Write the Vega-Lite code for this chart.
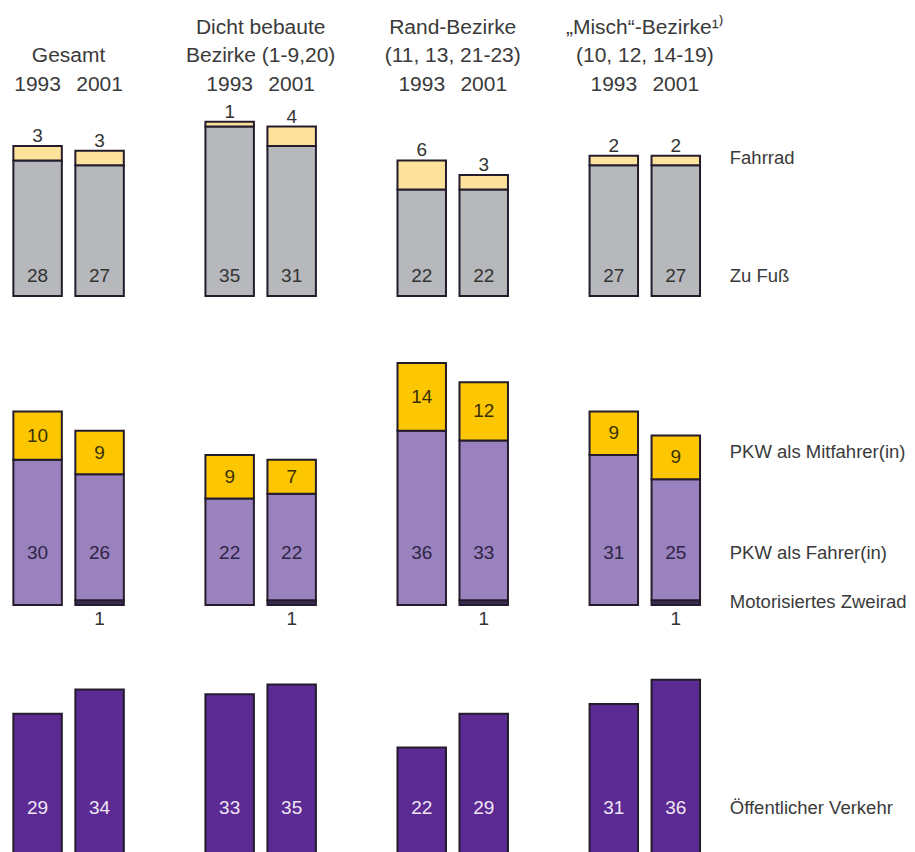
{
  "$schema": "https://vega.github.io/schema/vega-lite/v6.json",
  "padding": 0,
  "autosize": {"type": "pad"},
  "background": "white",
  "spacing": 0,
  "bounds": "flush",
  "config": {
    "font": "Liberation Sans",
    "view": {"stroke": null},
    "axis": {"disable": true},
    "legend": {"disable": true},
    "text": {"font": "Liberation Sans", "color": "#3a3a3a"}
  },
  "datasets": {
    "main": [
      {"group": "Gesamt", "year": "1993", "mode": "Zu Fuß", "value": 28},
      {"group": "Gesamt", "year": "1993", "mode": "Fahrrad", "value": 3},
      {"group": "Gesamt", "year": "1993", "mode": "PKW als Fahrer(in)", "value": 30},
      {"group": "Gesamt", "year": "1993", "mode": "PKW als Mitfahrer(in)", "value": 10},
      {"group": "Gesamt", "year": "1993", "mode": "Öffentlicher Verkehr", "value": 29},
      {"group": "Gesamt", "year": "2001", "mode": "Zu Fuß", "value": 27},
      {"group": "Gesamt", "year": "2001", "mode": "Fahrrad", "value": 3},
      {"group": "Gesamt", "year": "2001", "mode": "Motorisiertes Zweirad", "value": 1},
      {"group": "Gesamt", "year": "2001", "mode": "PKW als Fahrer(in)", "value": 26},
      {"group": "Gesamt", "year": "2001", "mode": "PKW als Mitfahrer(in)", "value": 9},
      {"group": "Gesamt", "year": "2001", "mode": "Öffentlicher Verkehr", "value": 34},
      {"group": "Dicht", "year": "1993", "mode": "Zu Fuß", "value": 35},
      {"group": "Dicht", "year": "1993", "mode": "Fahrrad", "value": 1},
      {"group": "Dicht", "year": "1993", "mode": "PKW als Fahrer(in)", "value": 22},
      {"group": "Dicht", "year": "1993", "mode": "PKW als Mitfahrer(in)", "value": 9},
      {"group": "Dicht", "year": "1993", "mode": "Öffentlicher Verkehr", "value": 33},
      {"group": "Dicht", "year": "2001", "mode": "Zu Fuß", "value": 31},
      {"group": "Dicht", "year": "2001", "mode": "Fahrrad", "value": 4},
      {"group": "Dicht", "year": "2001", "mode": "Motorisiertes Zweirad", "value": 1},
      {"group": "Dicht", "year": "2001", "mode": "PKW als Fahrer(in)", "value": 22},
      {"group": "Dicht", "year": "2001", "mode": "PKW als Mitfahrer(in)", "value": 7},
      {"group": "Dicht", "year": "2001", "mode": "Öffentlicher Verkehr", "value": 35},
      {"group": "Rand", "year": "1993", "mode": "Zu Fuß", "value": 22},
      {"group": "Rand", "year": "1993", "mode": "Fahrrad", "value": 6},
      {"group": "Rand", "year": "1993", "mode": "PKW als Fahrer(in)", "value": 36},
      {"group": "Rand", "year": "1993", "mode": "PKW als Mitfahrer(in)", "value": 14},
      {"group": "Rand", "year": "1993", "mode": "Öffentlicher Verkehr", "value": 22},
      {"group": "Rand", "year": "2001", "mode": "Zu Fuß", "value": 22},
      {"group": "Rand", "year": "2001", "mode": "Fahrrad", "value": 3},
      {"group": "Rand", "year": "2001", "mode": "Motorisiertes Zweirad", "value": 1},
      {"group": "Rand", "year": "2001", "mode": "PKW als Fahrer(in)", "value": 33},
      {"group": "Rand", "year": "2001", "mode": "PKW als Mitfahrer(in)", "value": 12},
      {"group": "Rand", "year": "2001", "mode": "Öffentlicher Verkehr", "value": 29},
      {"group": "Misch", "year": "1993", "mode": "Zu Fuß", "value": 27},
      {"group": "Misch", "year": "1993", "mode": "Fahrrad", "value": 2},
      {"group": "Misch", "year": "1993", "mode": "PKW als Fahrer(in)", "value": 31},
      {"group": "Misch", "year": "1993", "mode": "PKW als Mitfahrer(in)", "value": 9},
      {"group": "Misch", "year": "1993", "mode": "Öffentlicher Verkehr", "value": 31},
      {"group": "Misch", "year": "2001", "mode": "Zu Fuß", "value": 27},
      {"group": "Misch", "year": "2001", "mode": "Fahrrad", "value": 2},
      {"group": "Misch", "year": "2001", "mode": "Motorisiertes Zweirad", "value": 1},
      {"group": "Misch", "year": "2001", "mode": "PKW als Fahrer(in)", "value": 25},
      {"group": "Misch", "year": "2001", "mode": "PKW als Mitfahrer(in)", "value": 9},
      {"group": "Misch", "year": "2001", "mode": "Öffentlicher Verkehr", "value": 36}
    ],
    "headers": [
      {"group": "Gesamt", "line1": "", "line2": "Gesamt"},
      {"group": "Dicht", "line1": "Dicht bebaute", "line2": "Bezirke (1-9,20)"},
      {"group": "Rand", "line1": "Rand-Bezirke", "line2": "(11, 13, 21-23)"},
      {"group": "Misch", "line1": "„Misch“-Bezirke¹⁾", "line2": "(10, 12, 14-19)"}
    ]
  },
  "vconcat": [
    {
      "width": 713.4,
      "height": 296,
      "layer": [
        {
          "data": {"name": "main"},
          "transform": [{"filter": {"field": "mode", "oneOf": ["Zu Fuß", "Fahrrad"]}}],
          "mark": {"type": "bar", "stroke": "#241c2c", "strokeWidth": 2},
          "encoding": {
            "x": {"field": "group", "type": "nominal", "scale": {"domain": ["Gesamt", "Dicht", "Rand", "Misch"], "paddingInner": 0.2857, "paddingOuter": 0}, "axis": null},
            "xOffset": {"field": "year", "type": "nominal", "scale": {"domain": ["1993", "2001"], "paddingInner": 0.218, "paddingOuter": 0.2155}},
            "y": {"field": "value", "type": "quantitative", "stack": "zero", "scale": {"domain": [0, 61.157], "nice": false, "zero": true}, "axis": null},
            "color": {"field": "mode", "type": "nominal", "scale": {"domain": ["Zu Fuß", "Fahrrad", "Motorisiertes Zweirad", "PKW als Fahrer(in)", "PKW als Mitfahrer(in)", "Öffentlicher Verkehr"], "range": ["#b6b8bc", "#fde29c", "#3a2c55", "#9a82bf", "#fcc700", "#5b2a93"]}, "legend": null},
            "order": {"field": "mode", "sort": "descending"}
          }
        },
        {
          "data": {"name": "main"},
          "transform": [{"filter": {"field": "mode", "equal": "Zu Fuß"}}],
          "mark": {"type": "text", "fontSize": 19, "baseline": "middle", "color": "#333333"},
          "encoding": {
            "x": {"field": "group", "type": "nominal"},
            "xOffset": {"field": "year", "type": "nominal"},
            "y": {"datum": 4.13, "type": "quantitative"},
            "text": {"field": "value", "type": "quantitative"}
          }
        },
        {
          "data": {"name": "main"},
          "transform": [
            {"filter": {"field": "mode", "oneOf": ["Zu Fuß", "Fahrrad"]}},
            {"joinaggregate": [{"op": "sum", "field": "value", "as": "total"}], "groupby": ["group", "year"]},
            {"filter": {"field": "mode", "equal": "Fahrrad"}}
          ],
          "mark": {"type": "text", "fontSize": 19, "baseline": "middle", "dy": -10, "color": "#333333"},
          "encoding": {
            "x": {"field": "group", "type": "nominal"},
            "xOffset": {"field": "year", "type": "nominal"},
            "y": {"field": "total", "type": "quantitative"},
            "text": {"field": "value", "type": "quantitative"}
          }
        },
        {
          "data": {"name": "main"},
          "transform": [{"filter": {"field": "mode", "equal": "Zu Fuß"}}],
          "mark": {"type": "text", "fontSize": 21, "baseline": "middle"},
          "encoding": {
            "x": {"field": "group", "type": "nominal"},
            "xOffset": {"field": "year", "type": "nominal"},
            "y": {"datum": 43.6, "type": "quantitative"},
            "text": {"field": "year", "type": "nominal"}
          }
        },
        {
          "data": {"name": "headers"},
          "mark": {"type": "text", "fontSize": 21, "baseline": "middle"},
          "encoding": {
            "x": {"field": "group", "type": "nominal"},
            "y": {"datum": 55.37, "type": "quantitative"},
            "text": {"field": "line1", "type": "nominal"}
          }
        },
        {
          "data": {"name": "headers"},
          "mark": {"type": "text", "fontSize": 21, "baseline": "middle"},
          "encoding": {
            "x": {"field": "group", "type": "nominal"},
            "y": {"datum": 49.59, "type": "quantitative"},
            "text": {"field": "line2", "type": "nominal"}
          }
        },
        {
          "data": {"name": "main"},
          "transform": [{"filter": "datum.group === 'Misch' && datum.year === '2001' && datum.mode === 'Fahrrad'"}],
          "mark": {"type": "text", "fontSize": 18.5, "baseline": "middle", "align": "left", "dx": 54},
          "encoding": {
            "x": {"field": "group", "type": "nominal"},
            "xOffset": {"field": "year", "type": "nominal"},
            "y": {"datum": 28.5, "type": "quantitative"},
            "text": {"field": "mode", "type": "nominal"}
          }
        },
        {
          "data": {"name": "main"},
          "transform": [{"filter": "datum.group === 'Misch' && datum.year === '2001' && datum.mode === 'Zu Fuß'"}],
          "mark": {"type": "text", "fontSize": 18.5, "baseline": "middle", "align": "left", "dx": 54},
          "encoding": {
            "x": {"field": "group", "type": "nominal"},
            "xOffset": {"field": "year", "type": "nominal"},
            "y": {"datum": 4.13, "type": "quantitative"},
            "text": {"field": "mode", "type": "nominal"}
          }
        }
      ]
    },
    {
      "width": 713.4,
      "height": 309,
      "layer": [
        {
          "data": {"name": "main"},
          "transform": [{"filter": {"field": "mode", "oneOf": ["Motorisiertes Zweirad", "PKW als Fahrer(in)", "PKW als Mitfahrer(in)"]}}],
          "mark": {"type": "bar", "stroke": "#241c2c", "strokeWidth": 2},
          "encoding": {
            "x": {"field": "group", "type": "nominal", "scale": {"domain": ["Gesamt", "Dicht", "Rand", "Misch"], "paddingInner": 0.2857, "paddingOuter": 0}, "axis": null},
            "xOffset": {"field": "year", "type": "nominal", "scale": {"domain": ["1993", "2001"], "paddingInner": 0.218, "paddingOuter": 0.2155}},
            "y": {"field": "value", "type": "quantitative", "stack": "zero", "scale": {"domain": [0, 63.843], "nice": false, "zero": true}, "axis": null},
            "color": {"field": "mode", "type": "nominal", "legend": null},
            "order": {"field": "mode", "sort": "ascending"}
          }
        },
        {
          "data": {"name": "main"},
          "transform": [{"filter": {"field": "mode", "oneOf": ["Motorisiertes Zweirad", "PKW als Fahrer(in)", "PKW als Mitfahrer(in)"]}}],
          "mark": {"type": "text", "fontSize": 19, "baseline": "middle", "color": "#3a3000"},
          "encoding": {
            "x": {"field": "group", "type": "nominal"},
            "xOffset": {"field": "year", "type": "nominal"},
            "y": {"field": "value", "type": "quantitative", "stack": "zero", "bandPosition": 0.5},
            "detail": {"field": "mode", "type": "nominal"},
            "order": {"field": "mode", "sort": "ascending"},
            "text": {"condition": {"test": "datum.mode === 'PKW als Mitfahrer(in)'", "field": "value", "type": "quantitative"}, "value": ""}
          }
        },
        {
          "data": {"name": "main"},
          "transform": [{"filter": {"field": "mode", "equal": "PKW als Fahrer(in)"}}],
          "mark": {"type": "text", "fontSize": 19, "baseline": "middle", "color": "#2f2545"},
          "encoding": {
            "x": {"field": "group", "type": "nominal"},
            "xOffset": {"field": "year", "type": "nominal"},
            "y": {"datum": 10.74, "type": "quantitative"},
            "text": {"field": "value", "type": "quantitative"}
          }
        },
        {
          "data": {"name": "main"},
          "transform": [{"filter": {"field": "mode", "equal": "Motorisiertes Zweirad"}}],
          "mark": {"type": "text", "fontSize": 19, "baseline": "middle", "dy": 14, "color": "#333333"},
          "encoding": {
            "x": {"field": "group", "type": "nominal"},
            "xOffset": {"field": "year", "type": "nominal"},
            "y": {"datum": 0, "type": "quantitative"},
            "text": {"field": "value", "type": "quantitative"}
          }
        },
        {
          "data": {"name": "main"},
          "transform": [{"filter": "datum.group === 'Misch' && datum.year === '2001' && datum.mode === 'PKW als Mitfahrer(in)'"}],
          "mark": {"type": "text", "fontSize": 18.5, "baseline": "middle", "align": "left", "dx": 54},
          "encoding": {
            "x": {"field": "group", "type": "nominal"},
            "xOffset": {"field": "year", "type": "nominal"},
            "y": {"datum": 31.6, "type": "quantitative"},
            "text": {"field": "mode", "type": "nominal"}
          }
        },
        {
          "data": {"name": "main"},
          "transform": [{"filter": "datum.group === 'Misch' && datum.year === '2001' && datum.mode === 'PKW als Fahrer(in)'"}],
          "mark": {"type": "text", "fontSize": 18.5, "baseline": "middle", "align": "left", "dx": 54},
          "encoding": {
            "x": {"field": "group", "type": "nominal"},
            "xOffset": {"field": "year", "type": "nominal"},
            "y": {"datum": 10.74, "type": "quantitative"},
            "text": {"field": "mode", "type": "nominal"}
          }
        },
        {
          "data": {"name": "main"},
          "transform": [{"filter": "datum.group === 'Misch' && datum.year === '2001' && datum.mode === 'Motorisiertes Zweirad'"}],
          "mark": {"type": "text", "fontSize": 18.5, "baseline": "middle", "align": "left", "dx": 54},
          "encoding": {
            "x": {"field": "group", "type": "nominal"},
            "xOffset": {"field": "year", "type": "nominal"},
            "y": {"datum": 0.6, "type": "quantitative"},
            "text": {"field": "mode", "type": "nominal"}
          }
        }
      ]
    },
    {
      "width": 713.4,
      "height": 249,
      "layer": [
        {
          "data": {"name": "main"},
          "transform": [{"filter": {"field": "mode", "equal": "Öffentlicher Verkehr"}}],
          "mark": {"type": "bar", "stroke": "#241c2c", "strokeWidth": 2},
          "encoding": {
            "x": {"field": "group", "type": "nominal", "scale": {"domain": ["Gesamt", "Dicht", "Rand", "Misch"], "paddingInner": 0.2857, "paddingOuter": 0}, "axis": null},
            "xOffset": {"field": "year", "type": "nominal", "scale": {"domain": ["1993", "2001"], "paddingInner": 0.218, "paddingOuter": 0.2155}},
            "y": {"field": "value", "type": "quantitative", "scale": {"domain": [0, 51.446], "nice": false, "zero": true}, "axis": null},
            "color": {"field": "mode", "type": "nominal", "legend": null}
          }
        },
        {
          "data": {"name": "main"},
          "transform": [{"filter": {"field": "mode", "equal": "Öffentlicher Verkehr"}}],
          "mark": {"type": "text", "fontSize": 19, "baseline": "middle", "color": "#efe6f5"},
          "encoding": {
            "x": {"field": "group", "type": "nominal"},
            "xOffset": {"field": "year", "type": "nominal"},
            "y": {"datum": 9.5, "type": "quantitative"},
            "text": {"field": "value", "type": "quantitative"}
          }
        },
        {
          "data": {"name": "main"},
          "transform": [{"filter": "datum.group === 'Misch' && datum.year === '2001' && datum.mode === 'Öffentlicher Verkehr'"}],
          "mark": {"type": "text", "fontSize": 18.5, "baseline": "middle", "align": "left", "dx": 54},
          "encoding": {
            "x": {"field": "group", "type": "nominal"},
            "xOffset": {"field": "year", "type": "nominal"},
            "y": {"datum": 9.5, "type": "quantitative"},
            "text": {"field": "mode", "type": "nominal"}
          }
        }
      ]
    }
  ]
}
